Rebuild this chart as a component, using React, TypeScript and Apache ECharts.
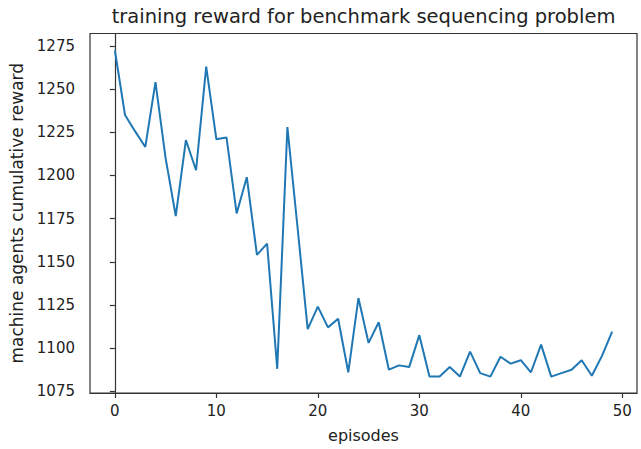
import React, { useEffect, useRef } from "react";
import * as echarts from "echarts";

// Cumulative reward per training episode
const episodes: number[] = Array.from({ length: 50 }, (_, i) => i);
const rewards: number[] = [
  1272.5, 1235, 1225.5, 1216.5, 1254, 1210, 1176.5, 1220.5, 1203, 1263,
  1221, 1222, 1178, 1199, 1154, 1160.5, 1088, 1228, 1170, 1111,
  1124, 1112, 1117, 1086, 1129, 1103, 1115, 1087.5, 1090, 1089,
  1107.5, 1083.5, 1083.5, 1089, 1083.5, 1098, 1085.5, 1083.5, 1095, 1091,
  1093, 1086, 1102, 1083.5, 1085.5, 1087.5, 1093, 1084, 1095.5, 1109.5,
];

const xTicks: number[] = [0, 10, 20, 30, 40, 50];
const yTicks: number[] = [1075, 1100, 1125, 1150, 1175, 1200, 1225, 1250, 1275];

const titleText = "training reward for benchmark sequencing problem";
const xName = "episodes";
const yName = "machine agents cumulative reward";

const FONT = "DejaVu Sans";
const INK = "#333333";

export default function App() {
  const ref = useRef<HTMLDivElement>(null);

  useEffect(() => {
    if (!ref.current) return;
    const chart = echarts.init(ref.current, undefined, { renderer: "svg" });

    const gridLeft = 90;
    const gridRight = 4;
    const gridTop = 33.5;
    const gridBottom = 56;
    const plotCenterX = gridLeft + (641 - gridLeft - gridRight) / 2;

    chart.setOption({
      animation: false,
      backgroundColor: "#ffffff",
      graphic: [
        {
          type: "text",
          x: plotCenterX,
          y: 16,
          style: {
            text: titleText,
            fontFamily: FONT,
            fontSize: 19.5,
            fill: "#222222",
            align: "center",
            verticalAlign: "middle",
          },
        },
      ],
      grid: {
        left: gridLeft,
        right: gridRight,
        top: gridTop,
        bottom: gridBottom,
        show: true,
        borderColor: INK,
        borderWidth: 1.2,
        backgroundColor: "#ffffff",
      },
      xAxis: {
        type: "value",
        min: -2.45,
        max: 51.45,
        name: xName,
        nameLocation: "middle",
        nameGap: 34,
        nameTextStyle: { fontFamily: FONT, fontSize: 16, color: "#222222" },
        splitLine: { show: false },
        axisLine: { show: true, lineStyle: { color: INK, width: 1.2 } },
        axisTick: {
          show: true,
          length: 5,
          inside: false,
          customValues: xTicks,
          lineStyle: { color: INK, width: 1.2 },
        },
        axisLabel: {
          customValues: xTicks,
          margin: 10,
          fontFamily: FONT,
          fontSize: 15,
          color: "#222222",
          formatter: (v: number) => String(v),
        },
      },
      yAxis: {
        type: "value",
        min: 1074,
        max: 1282.2,
        name: yName,
        nameLocation: "middle",
        nameGap: 63,
        nameRotate: 90,
        nameTextStyle: { fontFamily: FONT, fontSize: 17, color: "#222222" },
        splitLine: { show: false },
        axisLine: { show: true, lineStyle: { color: INK, width: 1.2 } },
        axisTick: {
          show: true,
          length: 5,
          inside: false,
          customValues: yTicks,
          lineStyle: { color: INK, width: 1.2 },
        },
        axisLabel: {
          customValues: yTicks,
          margin: 15,
          fontFamily: FONT,
          fontSize: 15,
          color: "#222222",
          formatter: (v: number) => String(v),
        },
      },
      series: [
        {
          type: "line",
          data: episodes.map((e, i) => [e, rewards[i]]),
          showSymbol: false,
          symbol: "none",
          lineStyle: { color: "#1f77b4", width: 2 },
          itemStyle: { color: "#1f77b4" },
        },
      ],
    });

    return () => chart.dispose();
  }, []);

  return (
    <div
      ref={ref}
      style={{ position: "absolute", left: 0, top: 0, width: 641, height: 449 }}
    />
  );
}
